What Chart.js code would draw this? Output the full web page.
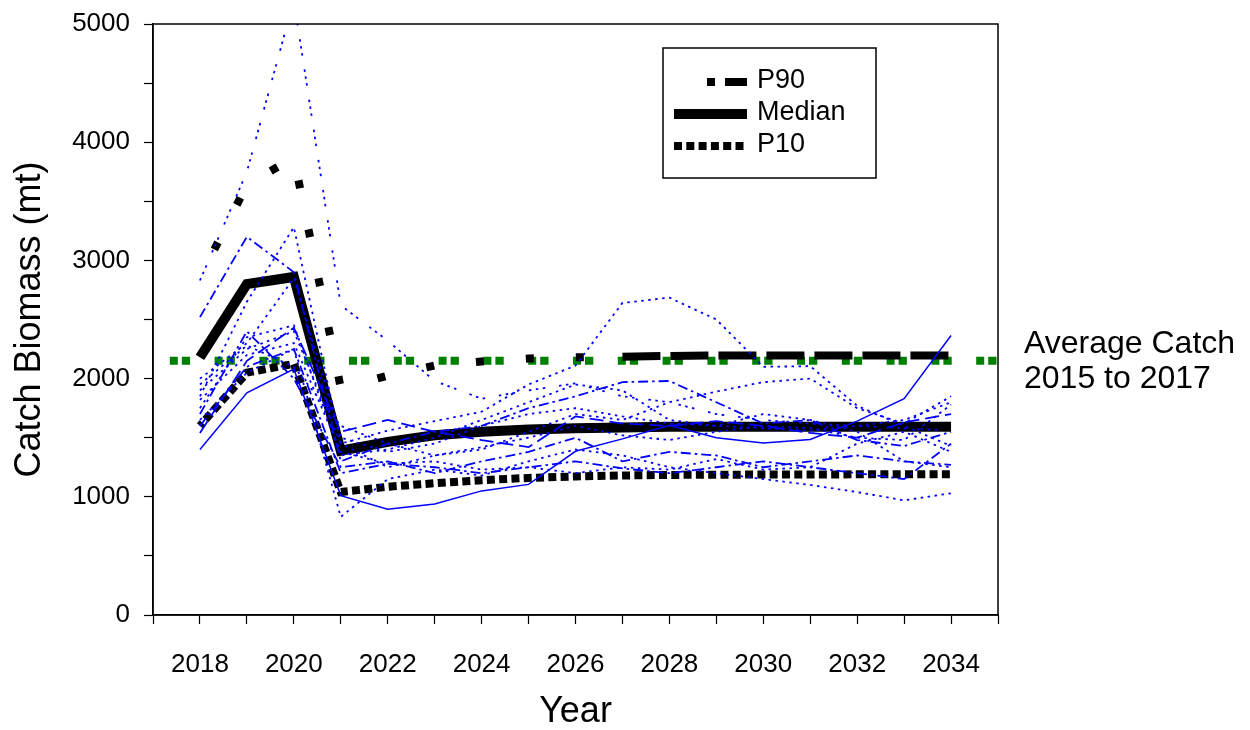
<!DOCTYPE html>
<html>
<head>
<meta charset="utf-8">
<script src="https://cdn.jsdelivr.net/npm/chart.js@4.4.1/dist/chart.umd.min.js"></script>
<style>
  body { margin: 0; background: #fff; }
</style>
</head>
<body>
<canvas id="grafico" width="1250" height="730"></canvas>
<script>
const anos = [2018, 2019, 2020, 2021, 2022, 2023, 2024, 2025, 2026, 2027, 2028, 2029, 2030, 2031, 2032, 2033, 2034];

const p90 = [2850, 3640, 3870, 1920, 2025, 2110, 2145, 2170, 2180, 2185, 2192, 2195, 2195, 2196, 2196, 2195, 2195];
const mediana = [2180, 2800, 2860, 1390, 1465, 1520, 1550, 1570, 1580, 1587, 1592, 1592, 1592, 1592, 1592, 1592, 1592];
const p10 = [1600, 2050, 2125, 1040, 1085, 1115, 1140, 1160, 1172, 1180, 1185, 1187, 1188, 1189, 1190, 1190, 1190];

const mediaCaptura = 2150;

// individual runs (blue)
const rodadaA = [1400, 1880, 2080, 1010, 895, 940, 1050, 1105, 1385, 1490, 1605, 1500, 1455, 1485, 1640, 1830, 2365];
const rodadaB = [2830, 3750, 5200, 2620, 2320, 1980, 1830, 1900, 1960, 1850, 1800, 1700, 1650, 1620, 1600, 1580, 1560];
const rodadaC = [1900, 2250, 2400, 1450, 1560, 1640, 1720, 1950, 2110, 2640, 2685, 2500, 2100, 2105, 1770, 1600, 1430];
const rodadaD = [1850, 2650, 3280, 1450, 1250, 1350, 1420, 1500, 1600, 1520, 1480, 1550, 1600, 1580, 1500, 1480, 1780];
const rodadaE = [2520, 3200, 2900, 1300, 1450, 1550, 1600, 1750, 1850, 1970, 1980, 1800, 1620, 1650, 1480, 1430, 1550];
const rodadaF = [1820, 2200, 2300, 1380, 1280, 1300, 1230, 1250, 1200, 1250, 1230, 1320, 1230, 1250, 1450, 1550, 1380];
const rodadaG = [1540, 2150, 2430, 1550, 1650, 1550, 1480, 1420, 1680, 1620, 1600, 1640, 1600, 1540, 1500, 1630, 1700];
const rodadaH = [1650, 2050, 2250, 830, 1150, 1230, 1180, 1300, 1400, 1350, 1250, 1200, 1150, 1100, 1040, 970, 1030];
const rodadaI = [2000, 2300, 2850, 1500, 1380, 1450, 1600, 1700, 1750, 1680, 1620, 1600, 1580, 1560, 1600, 1650, 1800];
const rodadaJ = [1700, 2400, 2000, 1250, 1300, 1200, 1300, 1380, 1500, 1300, 1380, 1350, 1250, 1300, 1350, 1300, 1270];
const rodadaK = [1950, 2280, 2100, 1600, 1450, 1350, 1400, 1550, 1700, 1650, 1800, 1890, 1970, 2000, 1750, 1620, 1850];
const rodadaL = [1750, 2350, 2450, 1350, 1400, 1500, 1650, 1800, 1950, 1900, 1650, 1600, 1700, 1650, 1550, 1300, 1250];
const rodadaM = [1600, 2100, 2250, 1200, 1280, 1250, 1200, 1250, 1300, 1240, 1200, 1250, 1300, 1250, 1200, 1150, 1450];

const rodadas = [rodadaA, rodadaB, rodadaC, rodadaD, rodadaE, rodadaF, rodadaG, rodadaH, rodadaI, rodadaJ, rodadaK, rodadaL, rodadaM];

const PONTO = [2.5, 4.5];
const TRACO_PONTO = [10, 4, 2.5, 4];
const TRACO = [14, 6];
const TRES_PONTOS = [2.5, 4.5, 2.5, 4.5, 2.5, 14];
const estilosRodadas = [[], TRES_PONTOS, PONTO, PONTO, TRACO_PONTO, PONTO, TRACO, PONTO, PONTO, TRACO_PONTO, PONTO, PONTO, TRACO_PONTO];

const FONTE = "'Liberation Sans', Arial, sans-serif";

function pontos(serie) {
  return anos.map((ano, i) => ({ x: ano, y: serie[i] }));
}

const datasets = [];

rodadas.forEach((serie, i) => {
  datasets.push({
    label: "run " + (i + 1),
    data: pontos(serie),
    borderColor: "#0000ff",
    borderWidth: estilosRodadas[i].length ? 1.8 : 1.5,
    borderDash: estilosRodadas[i],
    pointRadius: 0,
    tension: 0,
    clip: 0
  });
});

datasets.push({
  label: "Median",
  data: pontos(mediana),
  borderColor: "#000",
  borderWidth: 10,
  pointRadius: 0,
  tension: 0,
  clip: 0
});

datasets.push({
  label: "P90",
  data: pontos(p90),
  borderColor: "#000",
  borderWidth: 8,
  pointRadius: 0,
  tension: 0,
  clip: 0,
  segment: {
    borderDash: ctx => ctx.p0.parsed.x >= 2027 ? [38, 10] : [8, 42],
    borderDashOffset: ctx => ctx.p0.parsed.x >= 2027 ? 0 : 18
  }
});

datasets.push({
  label: "P10",
  data: pontos(p10),
  borderColor: "#000",
  borderWidth: 8,
  borderDash: [8, 4.3],
  borderDashOffset: 4,
  pointRadius: 0,
  tension: 0,
  clip: 0
});

datasets.push({
  label: "Average",
  data: [{ x: 2017, y: mediaCaptura }, { x: 2035, y: mediaCaptura }],
  borderColor: "#008000",
  borderWidth: 8,
  borderDash: [8, 4, 8.3, 24.5],
  borderDashOffset: 28,
  pointRadius: 0,
  clip: 0
});

const moldura = {
  id: "moldura",
  afterDatasetsDraw(chart) {
    const { ctx, chartArea: a, scales } = chart;
    ctx.save();
    ctx.strokeStyle = "#000";
    ctx.lineWidth = 1.5;
    ctx.strokeRect(a.left, a.top, a.right - a.left, a.bottom - a.top);

    // legend box
    const lx = 663, ly = 48, lw = 213, lh = 130;
    ctx.fillStyle = "#fff";
    ctx.fillRect(lx, ly, lw, lh);
    ctx.lineWidth = 1.5;
    ctx.strokeRect(lx, ly, lw, lh);

    ctx.strokeStyle = "#000";
    ctx.lineCap = "butt";
    // P90
    ctx.lineWidth = 8;
    ctx.setLineDash([]);
    ctx.beginPath();
    ctx.moveTo(707, 82); ctx.lineTo(715, 82);
    ctx.moveTo(725, 82); ctx.lineTo(747, 82);
    ctx.stroke();
    // Median
    ctx.lineWidth = 10;
    ctx.beginPath();
    ctx.moveTo(674, 114); ctx.lineTo(747, 114);
    ctx.stroke();
    // P10
    ctx.lineWidth = 8;
    ctx.setLineDash([8, 4.3]);
    ctx.beginPath();
    ctx.moveTo(674, 146); ctx.lineTo(747, 146);
    ctx.stroke();
    ctx.setLineDash([]);

    ctx.fillStyle = "#000";
    ctx.font = "27px " + FONTE;
    ctx.textAlign = "left";
    ctx.textBaseline = "middle";
    ctx.fillText("P90", 757, 81);
    ctx.fillText("Median", 757, 113);
    ctx.fillText("P10", 757, 145);

    // average catch label
    const yMedia = scales.y.getPixelForValue(mediaCaptura);
    ctx.font = "32px " + FONTE;
    ctx.fillText("Average Catch", 1024, yMedia - 17);
    ctx.fillText("2015 to 2017", 1024, yMedia + 18);
    ctx.restore();
  }
};

new Chart(document.getElementById("grafico"), {
  type: "line",
  data: { datasets },
  options: {
    responsive: false,
    animation: false,
    devicePixelRatio: 1,
    layout: { padding: { top: 24, right: 252, bottom: 0, left: 0 } },
    plugins: {
      legend: { display: false },
      tooltip: { enabled: false }
    },
    scales: {
      x: {
        type: "linear",
        min: 2017,
        max: 2035,
        afterFit: s => { s.height = 115; s.paddingLeft = 0; s.paddingRight = 0; },
        ticks: {
          stepSize: 1,
          autoSkip: false,
          maxRotation: 0,
          padding: 25,
          color: "#000",
          font: { family: FONTE, size: 26 },
          callback: v => (v % 2 === 0 && v >= 2018 && v <= 2034) ? String(v) : ""
        },
        grid: { drawOnChartArea: false, color: "#000", tickLength: 9, tickWidth: 1.2 },
        border: { color: "#000", width: 1.5 },
        title: {
          display: true,
          text: "Year",
          color: "#000",
          font: { family: FONTE, size: 36, lineHeight: 1 },
          padding: { top: 0, bottom: 0 }
        }
      },
      y: {
        min: 0,
        max: 5000,
        afterFit: s => { s.width = 153; s.paddingTop = 0; s.paddingBottom = 0; },
        ticks: {
          stepSize: 500,
          autoSkip: false,
          padding: 14,
          color: "#000",
          font: { family: FONTE, size: 26 },
          callback: v => v % 1000 === 0 ? String(v) : ""
        },
        grid: { drawOnChartArea: false, color: "#000", tickLength: 9, tickWidth: 1.2 },
        border: { color: "#000", width: 1.5 },
        title: {
          display: true,
          text: "Catch Biomass (mt)",
          color: "#000",
          font: { family: FONTE, size: 36, lineHeight: 1 },
          padding: { top: 12, bottom: 0 }
        }
      }
    }
  },
  plugins: [moldura]
});
</script>
</body>
</html>
